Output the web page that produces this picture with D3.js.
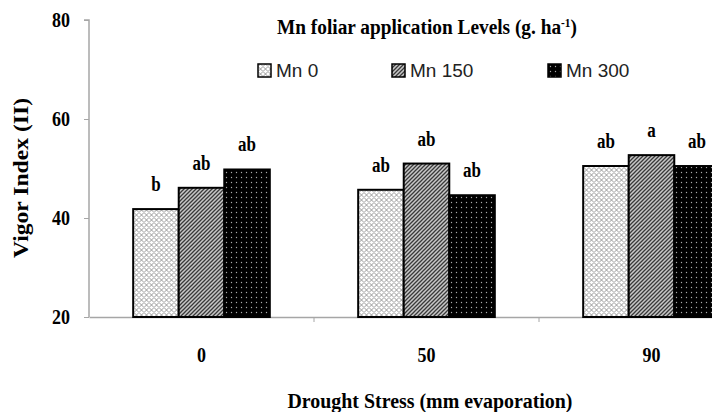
<!DOCTYPE html>
<html>
<head>
<meta charset="utf-8">
<script src="https://d3js.org/d3.v7.min.js"></script>
<style>
  body { margin: 0; background: #fff; }
  text { font-family: "Liberation Serif", "Times New Roman", serif; font-weight: bold; }
</style>
</head>
<body>
<svg id="chart" width="712" height="412"></svg>
<script>
// Chart data
var stressLevels = ['0', '50', '90'];
var mnLevels = ['Mn 0', 'Mn 150', 'Mn 300'];
var mn0Values = [41.8, 45.7, 50.5];
var mn150Values = [46.1, 51.0, 52.7];
var mn300Values = [49.8, 44.6, 50.5];
var mn0Letters = ['b', 'ab', 'ab'];
var mn150Letters = ['ab', 'ab', 'a'];
var mn300Letters = ['ab', 'ab', 'ab'];
var yTicks = [20, 40, 60, 80];

var svg = d3.select('#chart');

var margin = { left: 89, top: 20, bottom: 95 };
var bandWidth = 225;
var plotHeight = 412 - margin.top - margin.bottom;
var stretch = 'scale(1,1.2)';   // the original text is tall and narrow

// Patterns for the bars
var defs = svg.append('defs');

var p0 = defs.append('pattern').attr('id', 'pat-mn0')
    .attr('patternUnits', 'userSpaceOnUse').attr('width', 5).attr('height', 5);
p0.append('rect').attr('width', 5).attr('height', 5).attr('fill', '#fff');
p0.append('path').attr('d', 'M0,2.5 L2.5,0 L5,2.5 L2.5,5 Z')
    .attr('fill', 'none').attr('stroke', '#909090').attr('stroke-width', 0.9);

var p1 = defs.append('pattern').attr('id', 'pat-mn150')
    .attr('patternUnits', 'userSpaceOnUse').attr('width', 4).attr('height', 4);
p1.append('rect').attr('width', 4).attr('height', 4).attr('fill', '#c8c8c8');
p1.append('path').attr('d', 'M-1,1 L1,-1 M0,4 L4,0 M3,5 L5,3')
    .attr('stroke', '#3a3a3a').attr('stroke-width', 1.3);

var p2 = defs.append('pattern').attr('id', 'pat-mn300')
    .attr('patternUnits', 'userSpaceOnUse').attr('width', 5).attr('height', 5);
p2.append('rect').attr('width', 5).attr('height', 5).attr('fill', '#000');
p2.append('circle').attr('cx', 2.5).attr('cy', 2.5).attr('r', 0.7).attr('fill', '#aaa');

var fills = ['url(#pat-mn0)', 'url(#pat-mn150)', 'url(#pat-mn300)'];

// Scales
var x = d3.scaleBand()
    .domain(stressLevels)
    .range([margin.left, margin.left + bandWidth * stressLevels.length])
    .paddingInner(0).paddingOuter(0);

var xInner = d3.scaleBand()
    .domain(mnLevels)
    .range([0, x.bandwidth()])
    .paddingOuter(0.97).paddingInner(0);

var y = d3.scaleLinear()
    .domain([20, 80])
    .range([margin.top + plotHeight, margin.top]);

// Axes
var yAxis = svg.append('g')
    .attr('transform', 'translate(' + margin.left + ',0)')
    .call(d3.axisLeft(y).tickValues(yTicks).tickSize(5).tickPadding(14));

var xAxis = svg.append('g')
    .attr('transform', 'translate(0,' + y(20) + ')')
    .call(d3.axisBottom(x).tickSize(0));

// extra ticks on category boundaries
svg.append('g').selectAll('line.bound')
    .data(stressLevels)
    .enter().append('line')
        .attr('x1', function(d){ return x(d) + x.bandwidth(); })
        .attr('x2', function(d){ return x(d) + x.bandwidth(); })
        .attr('y1', y(20)).attr('y2', y(20) + 5)
        .attr('stroke', '#a6a6a6');

[yAxis, xAxis].forEach(function(a){
    a.select('.domain').attr('stroke', '#a6a6a6').attr('stroke-width', 1.5);
    a.selectAll('.tick line').attr('stroke', '#a6a6a6');
    a.selectAll('.tick text')
        .style('font-family', '"Liberation Serif", serif')
        .style('font-weight', 'bold')
        .style('font-size', '18px')
        .attr('fill', '#000');
});
yAxis.select('.domain').attr('d', 'M-5,' + y(80) + 'H0V' + y(20));
yAxis.selectAll('.tick text').attr('dy', '0.3em').attr('transform', stretch);
xAxis.selectAll('.tick text')
    .attr('y', 0).attr('dy', 0)
    .attr('transform', 'translate(0,45) ' + stretch);

// Bars
var series = [mn0Values, mn150Values, mn300Values];
var letters = [mn0Letters, mn150Letters, mn300Letters];

var groups = svg.append('g').selectAll('g')
    .data(stressLevels)
    .enter().append('g')
        .attr('transform', function(d){ return 'translate(' + x(d) + ',0)'; });

groups.each(function(d, i) {
    var g = d3.select(this);
    for (var s = 0; s < mnLevels.length; s++) {
        var v = series[s][i];
        g.append('rect')
            .attr('x', xInner(mnLevels[s]))
            .attr('y', y(v))
            .attr('width', xInner.bandwidth())
            .attr('height', y(20) - y(v))
            .attr('fill', fills[s])
            .attr('stroke', '#000')
            .attr('stroke-width', 2);

        g.append('text')
            .attr('transform', 'translate(' + (xInner(mnLevels[s]) + xInner.bandwidth() / 2) + ',' + (y(v) - 18) + ') ' + stretch)
            .attr('text-anchor', 'middle')
            .style('font-size', '17px')
            .text(letters[s][i]);
    }
});

// Axis titles
svg.append('text')
    .attr('transform', 'translate(28,178) rotate(-90) ' + stretch)
    .attr('text-anchor', 'middle')
    .attr('textLength', 160)
    .attr('lengthAdjust', 'spacingAndGlyphs')
    .style('font-size', '17px')
    .text('Vigor Index (II)');

svg.append('text')
    .attr('transform', 'translate(430,408) ' + stretch)
    .attr('text-anchor', 'middle')
    .attr('textLength', 285)
    .attr('lengthAdjust', 'spacingAndGlyphs')
    .style('font-size', '17px')
    .text('Drought Stress (mm evaporation)');

// Legend
var legendTitle = svg.append('text')
    .attr('transform', 'translate(277,34) ' + stretch)
    .attr('textLength', 300)
    .attr('lengthAdjust', 'spacingAndGlyphs')
    .style('font-size', '17px');
legendTitle.append('tspan').text('Mn foliar application Levels (g. ha');
legendTitle.append('tspan').attr('dy', -6).style('font-size', '10px').text('-1');
legendTitle.append('tspan').attr('dy', 6).text(')');

var legendX = [258, 392, 548];
var legend = svg.append('g').selectAll('g')
    .data(mnLevels)
    .enter().append('g')
        .attr('transform', function(d, i){ return 'translate(' + legendX[i] + ',64)'; });

legend.append('rect')
    .attr('width', 13).attr('height', 13)
    .attr('fill', function(d, i){ return fills[i]; })
    .attr('stroke', '#000').attr('stroke-width', 1.5);

legend.append('text')
    .attr('x', 18).attr('y', 13)
    .style('font-family', '"Liberation Sans", Arial, sans-serif')
    .style('font-weight', 'normal')
    .style('font-size', '19px')
    .attr('fill', '#222')
    .text(function(d){ return d; });
</script>
</body>
</html>
